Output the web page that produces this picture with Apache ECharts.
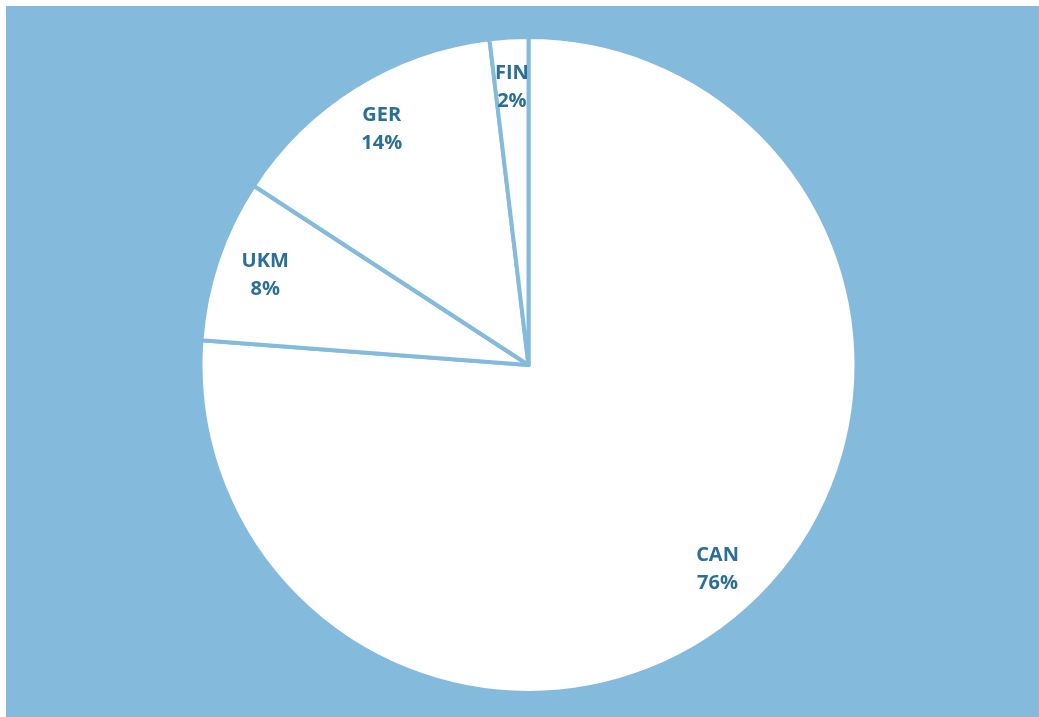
<!DOCTYPE html>
<html>
<head>
<meta charset="utf-8">
<script src="https://cdn.jsdelivr.net/npm/echarts@6/dist/echarts.min.js"></script>
<style>
  html, body { margin: 0; padding: 0; background: #fff; }
  #chart { position: absolute; left: 6px; top: 6px; width: 1033px; height: 711px; background: #84bbdd; }
</style>
</head>
<body>
<div id="chart"></div>
<script>
const countries = ['CAN', 'UKM', 'GER', 'FIN']
const shares = [76.2, 8.0, 13.9, 1.9]

const slices = countries.map((name, i) => ({ name: name, value: shares[i] }))

const chart = echarts.init(document.getElementById('chart'))
chart.setOption({
  backgroundColor: '#84bbdd',
  animation: false,
  series: [{
    // the slices
    type: 'pie',
    center: [522.5, 359],
    radius: [0, 328],
    startAngle: 90,
    clockwise: true,
    silent: true,
    label: { show: false },
    labelLine: { show: false },
    itemStyle: {
      color: '#ffffff',
      borderColor: '#84bbdd',
      borderWidth: 4
    },
    data: slices
  }, {
    // transparent ring only to put the labels at ~0.85 r
    type: 'pie',
    center: [522.5, 359],
    radius: [222, 328],
    startAngle: 90,
    clockwise: true,
    silent: true,
    percentPrecision: 0,
    itemStyle: { color: 'rgba(0,0,0,0)', borderWidth: 0 },
    labelLine: { show: false },
    label: {
      show: true,
      position: 'inside',
      formatter: '{b}\n{d}%',
      color: '#2a6f98',
      fontFamily: 'Open Sans',
      fontWeight: 'bold',
      fontSize: 20,
      lineHeight: 28
    },
    data: slices
  }]
})
</script>
</body>
</html>
